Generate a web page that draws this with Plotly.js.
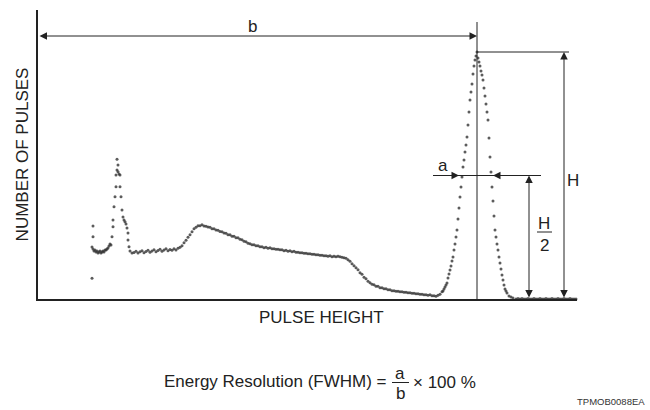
<!DOCTYPE html>
<html>
<head>
<meta charset="utf-8">
<script src="https://cdn.plot.ly/plotly-3.0.1.min.js"></script>
<style>html,body{margin:0;padding:0;background:#fff;}#chart{width:650px;height:410px;}</style>
</head>
<body>
<div id="chart"></div>
<script>
// ---- data (pulse height channel, number of pulses) ----
const lowChannels = [54,55,55,54,55,56,57,58,59,60,61,62,63,64,65,66,67,68,69,70,71,72,73,74,75,75,76,77,78,78,79,79,80,80,81,82,82,83,84,85,86,87,88,89,90,90,91,92,94];
const lowCounts = [83,292,249,208,200,192,196,188,192,184,188,192,184,188,192,188,196,196,200,204,212,220,216,249,289,316,369,409,449,496,516,559,536,509,500,496,449,409,356,328,316,309,300,284,264,236,209,192,184];

const contChannels = [96,98,100,102,104,106,108,110,112,114,116,118,120,122,124,126,128,130,132,134,136,138,140,142,144,146,148,150,152,154,156,158,160,162,164,166,168,170,172,174,176,178,180,182,184,186,188,190,192,194,196,198,200,202,204,206,208,210,212,214,216,218,220,222,224,226,228,230,232,234,236,238,240,242,244,246,248,250,252,254,256,258,260,262,264,266,268,270,272,274,276,278,280,282,284,286,288,290,292,294,296,298,300,302,304,306,308,310,312,314,316,318,320,322,324,326,328,330,332,334,336,338,340,342,344,346,348,350,352,354,356,358,360,362,364,366,368,370,372,374,376,378,380,382,384,386,388,390,392,394,396,398,400,402,404];
const contCounts = [186,191,184,189,193,185,190,195,187,192,197,189,194,199,191,196,201,193,198,195,201,196,203,207,213,225,235,247,257,269,281,287,293,293,297,292,291,288,287,281,281,276,275,270,269,264,263,257,257,251,251,245,245,239,237,231,229,223,221,217,217,213,213,209,209,205,207,203,205,201,201,199,199,197,197,193,195,191,193,189,191,187,187,185,185,183,183,181,181,179,179,177,177,175,175,173,173,171,173,169,171,169,171,169,167,165,163,157,151,141,133,125,117,105,99,87,81,71,65,59,57,51,51,45,45,41,41,37,37,33,33,31,31,29,29,27,27,25,25,23,23,21,21,19,19,17,17,15,17,13,13,11,15,19,29];

const peakChannels = [405,406,407,408,409,410,411,412,413,414,415,416,417,418,419,420,421,422,423,424,425,426,427,428,429,430,431,432,433,434,435,436,437,438,439,440,441,442,443,444,445,446,447,448,449,450,451,452,453,454,455,456,457,458,459,460,461,462,463,464,465,466,467,468,469,471,473,475,478];
const peakCounts = [32,40,48,56,64,84,100,116,132,152,168,196,220,248,276,320,364,408,448,488,528,556,588,616,648,696,748,796,828,860,900,932,956,972,988,964,948,932,912,896,876,844,812,780,748,716,644,568,508,448,392,332,276,248,220,196,168,144,120,96,76,56,40,32,24,12,8,4,0];

const tailChannels = [480,482,484,486,488,490,492,494,496,498,500,502,504,506,508,510,512,514,516,518,520,522,524,526,528,530,532,534,536,538];
const tailCounts = [2,0,2,0,0,2,0,0,2,0,0,2,0,0,2,0,0,2,0,0,2,0,0,2,0,0,2,0,0,0];

// ---- derived values for the FWHM construction ----
const peakH = Math.max(...peakCounts);
const peakX = peakChannels[peakCounts.indexOf(peakH)];
const halfH = peakH / 2;

// ---- layout helpers (pixel -> paper) ----
const L = 38, R = 577, T = 10, B = 299;
const px = v => (v - L) / (R - L);
const py = v => (B - v) / (B - T);

const ink = '#222';
const dotStyle = {color: '#333', size: 3, opacity: 0.8};

const traces = [
  {x: lowChannels, y: lowCounts, mode: 'markers', marker: dotStyle, cliponaxis: false, hoverinfo: 'skip'},
  {x: contChannels, y: contCounts, mode: 'markers', marker: dotStyle, cliponaxis: false, hoverinfo: 'skip'},
  {x: peakChannels, y: peakCounts, mode: 'markers', marker: dotStyle, cliponaxis: false, hoverinfo: 'skip'},
  {x: tailChannels, y: tailCounts, mode: 'markers', marker: dotStyle, cliponaxis: false, hoverinfo: 'skip'}
];

const font = {family: '"Liberation Sans", Arial, sans-serif', size: 17, color: '#222'};

function arrow(x, y, ax, ay, both) {
  return {x: x, y: y, ax: ax, ay: ay, xref: 'x', yref: 'y', axref: 'x', ayref: 'y',
          text: '', showarrow: true, arrowhead: 2, arrowsize: 1.5, arrowwidth: 1,
          arrowcolor: ink, arrowside: both ? 'end+start' : 'end', standoff: 0, startstandoff: 0};
}

const annotations = [
  // b : full pulse height to peak
  arrow(peakX, 1052, 0, 1052, true),
  {x: 214, y: 1092, xref: 'x', yref: 'y', text: 'b', showarrow: false, font: font},
  // a : FWHM arrows
  arrow(421, halfH, 395, halfH, false),
  arrow(455, halfH, 503, halfH, false),
  {x: 405, y: 536, xref: 'x', yref: 'y', text: 'a', showarrow: false, font: font},
  // H
  arrow(526, peakH, 526, 0, true),
  {x: 535, y: 476, xref: 'x', yref: 'y', text: 'H', showarrow: false, font: font},
  // H/2
  arrow(491, halfH, 491, 0, true),
  {x: 506, y: 304, xref: 'x', yref: 'y', text: 'H', showarrow: false, font: font},
  {x: 506, y: 216, xref: 'x', yref: 'y', text: '2', showarrow: false, font: font},
  // x axis title
  {x: px(321), y: py(317), xref: 'paper', yref: 'paper', text: 'PULSE HEIGHT', showarrow: false, font: font, xanchor: 'center', yanchor: 'middle'},
  // formula
  {x: px(389), y: py(381), xref: 'paper', yref: 'paper', text: 'Energy Resolution (FWHM) =', showarrow: false, font: font, xanchor: 'right', yanchor: 'middle'},
  {x: px(400), y: py(373), xref: 'paper', yref: 'paper', text: 'a', showarrow: false, font: font, xanchor: 'center', yanchor: 'middle'},
  {x: px(400), y: py(393), xref: 'paper', yref: 'paper', text: 'b', showarrow: false, font: font, xanchor: 'center', yanchor: 'middle'},
  {x: px(411), y: py(382), xref: 'paper', yref: 'paper', text: '× 100 %', showarrow: false, font: font, xanchor: 'left', yanchor: 'middle'},
  // figure code
  {x: px(647), y: py(409), xref: 'paper', yref: 'paper', text: 'TPMOB0088EA', showarrow: false,
   font: {family: font.family, size: 9.5, color: '#333'}, xanchor: 'right', yanchor: 'bottom'}
];

const shapes = [
  {type: 'line', xref: 'x', yref: 'y', x0: peakX, x1: peakX, y0: 0, y1: 1108, line: {color: ink, width: 1}},
  {type: 'line', xref: 'x', yref: 'y', x0: peakX, x1: 531, y0: peakH, y1: peakH, line: {color: ink, width: 1}},
  {type: 'line', xref: 'x', yref: 'y', x0: 395, x1: 503, y0: halfH, y1: halfH, line: {color: ink, width: 1}},
  {type: 'line', xref: 'x', yref: 'y', x0: 499, x1: 514, y0: 268, y1: 268, line: {color: ink, width: 1}},
  {type: 'line', xref: 'paper', yref: 'paper', x0: px(392), x1: px(409), y0: py(382.5), y1: py(382.5), line: {color: ink, width: 1}}
];

const layout = {
  width: 650, height: 410,
  margin: {l: L, r: 650 - R, t: T, b: 410 - B},
  paper_bgcolor: '#fff', plot_bgcolor: '#fff',
  showlegend: false,
  font: font,
  xaxis: {range: [0, 539], showline: true, linecolor: ink, linewidth: 2, showgrid: false, zeroline: false,
          showticklabels: false, ticks: '', fixedrange: true},
  yaxis: {range: [0, 1156], showline: true, linecolor: ink, linewidth: 2, showgrid: false, zeroline: false,
          showticklabels: false, ticks: '', fixedrange: true,
          title: {text: 'NUMBER OF PULSES', font: font, standoff: 3}},
  annotations: annotations,
  shapes: shapes
};

Plotly.newPlot('chart', traces, layout, {displayModeBar: false, staticPlot: true});
</script>
</body>
</html>
